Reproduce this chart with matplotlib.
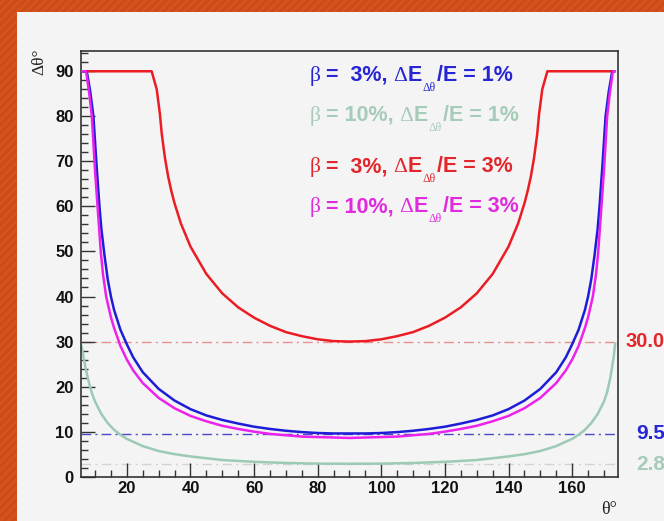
import matplotlib
matplotlib.use('Agg')
import matplotlib.pyplot as plt
from matplotlib.patches import Rectangle
from matplotlib.ticker import MultipleLocator
import matplotlib.transforms as mtransforms

plt.rcParams['mathtext.fontset'] = 'custom'
plt.rcParams['mathtext.rm'] = 'Liberation Serif'
plt.rcParams['mathtext.it'] = 'Liberation Serif'
plt.rcParams['mathtext.bf'] = 'Liberation Sans:bold'
plt.rcParams['font.family'] = ['Liberation Sans', 'DejaVu Sans']
plt.rcParams['hatch.linewidth'] = 2.0

# ---------------- data ----------------
theta_blue = [5.5, 7.4, 8.5, 9.5, 10.5, 11.4, 12, 13, 14, 15, 16, 18, 20, 22, 25, 30, 35, 40, 45,
              50, 55, 60, 65, 70, 75, 80, 85, 90,
              95, 100, 105, 110, 115, 120, 125, 130, 135, 140, 145, 150, 155, 158, 160, 162, 164,
              165, 166, 167, 168, 168.6, 169.5, 170.5, 171.5, 172.6, 173.2]
dtheta_blue = [90, 90, 85.5, 80, 69, 60, 55, 49, 43.8, 40, 37, 32.6, 29.4, 26.5, 23.2, 19.5, 16.9, 15.0, 13.6,
               12.6, 11.8, 11.1, 10.6, 10.2, 9.9, 9.7, 9.6, 9.6,
               9.6, 9.7, 9.9, 10.2, 10.6, 11.1, 11.8, 12.6, 13.6, 15.0, 16.9, 19.5, 23.2, 26.5, 29.4, 32.6, 37,
               40, 43.8, 49, 55, 60, 69, 80, 85.5, 90, 90]

theta_green = [5.5, 6, 7, 8, 9, 10, 12, 14, 16, 18, 20, 25, 30, 35, 40, 45, 50, 60, 70, 80, 90,
               100, 110, 120, 130, 135, 140, 145, 150, 155, 160, 162, 164, 166, 168, 170, 171, 172,
               173, 173.5]
dtheta_green = [29.5, 28.2, 24.2, 21.1, 18.6, 16.7, 13.9, 11.9, 10.4, 9.3, 8.4, 6.8, 5.7, 5.0, 4.5, 4.1, 3.7,
                3.3, 3.05, 2.9, 2.87,
                2.9, 3.05, 3.3, 3.7, 4.1, 4.5, 5.0, 5.7, 6.8, 8.4, 9.3, 10.4, 11.9, 13.9, 16.7, 18.8, 22.0,
                26.3, 29.5]

theta_red = [5.5, 27.8, 29.4, 30.4, 31, 32, 33, 34, 35, 37, 40, 45, 50, 55, 60, 65, 70, 75, 80, 85, 90,
             95, 100, 105, 110, 115, 120, 125, 130, 135, 140, 143, 145, 146, 147, 148, 149, 149.6,
             150.6, 152.2, 173.2]
dtheta_red = [90, 90, 86, 80.5, 76, 70.7, 66.6, 63.4, 60.7, 56.2, 51.1, 45, 40.7, 37.6, 35.3, 33.5, 32.1,
              31.2, 30.5, 30.1, 30.0,
              30.1, 30.5, 31.2, 32.1, 33.5, 35.3, 37.6, 40.7, 45, 51.1, 56.2, 60.7, 63.4, 66.6, 70.7, 76,
              80.5, 86, 90, 90]

theta_magenta = [5.5, 7.2, 8.2, 9.0, 10, 10.8, 11.8, 12.5, 13.5, 15, 16, 18, 20, 22, 25, 30, 35, 40, 45,
                 50, 55, 60, 65, 70, 75, 80, 85, 90,
                 95, 100, 105, 110, 115, 120, 125, 130, 135, 140, 145, 150, 155, 158, 160, 162, 164,
                 165, 166.5, 167.5, 168.2, 169.2, 170, 171, 171.8, 172.8, 173.2]
dtheta_magenta = [90, 90, 85, 80, 68, 60, 50, 45, 40, 35.4, 33, 29, 26, 23.6, 20.8, 17.5, 15.2, 13.5, 12.3,
                  11.3, 10.6, 10.0, 9.5, 9.2, 8.9, 8.8, 8.7, 8.6,
                  8.7, 8.8, 8.9, 9.2, 9.5, 10.0, 10.6, 11.3, 12.3, 13.5, 15.2, 17.5, 20.8, 23.6, 26, 29, 33,
                  35.4, 40, 45, 50, 60, 68, 80, 85, 90, 90]

beta_labels = ['3%', '10%', '3%', '10%']
dE_labels = ['1%', '1%', '3%', '3%']

ref_values = [30.0, 9.5, 2.8]
ref_labels = ['30.0', '9.5', '2.8']

x_ticks = [20, 40, 60, 80, 100, 120, 140, 160]
y_ticks = [0, 10, 20, 30, 40, 50, 60, 70, 80, 90]

# ---------------- styles ----------------
c_blue, c_green, c_red, c_mag = '#1d1dd8', '#9ccab4', '#ec1c24', '#ec22ec'
t_blue, t_green, t_red, t_mag = '#2626d4', '#a6cbb9', '#e3262b', '#e02ade'
ref_line_colors = ['#e89090', '#4a4ac8', '#cdd6d0']
ref_text_colors = ['#e3262b', '#2626d4', '#a6cbb9']
bg = '#f4f4f4'

W, H = 664, 521
fig = plt.figure(figsize=(W / 100, H / 100), dpi=100, facecolor=bg)

# orange slide frame (top and left bands)
for (x0, y0, w, h) in [(0, H - 12, W, 12), (0, 0, 17, H)]:
    fig.add_artist(Rectangle((x0 / W, y0 / H), w / W, h / H, transform=fig.transFigure,
                             facecolor='#d6531e', edgecolor='#cc4c19', hatch='////', lw=0, zorder=0))

L, R, T, B = 80.7, 618.3, 51, 476.7
ax = fig.add_axes([L / W, 1 - B / H, (R - L) / W, (B - T) / H])
ax.set_facecolor(bg)
ax.set_xlim(5.5, 174.5)
ax.set_ylim(0, 94.5)

for v, col in zip(ref_values, ref_line_colors):
    ax.axhline(v, color=col, lw=1.0, ls=(0, (7, 3, 1.5, 3)), zorder=1)

ax.plot(theta_green, dtheta_green, color=c_green, lw=1.8, zorder=2)
ax.plot(theta_red, dtheta_red, color=c_red, lw=1.8, zorder=3)
ax.plot(theta_blue, dtheta_blue, color=c_blue, lw=1.8, zorder=3)
ax.plot(theta_magenta, dtheta_magenta, color=c_mag, lw=1.8, zorder=4)

ax.set_xticks(x_ticks)
ax.set_yticks(y_ticks)
ax.xaxis.set_minor_locator(MultipleLocator(5))
ax.yaxis.set_minor_locator(MultipleLocator(2))
ax.tick_params(which='both', direction='in', top=False, right=False, color='#333333', width=1)
ax.tick_params(which='major', length=10)
ax.tick_params(which='minor', length=5)
ax.tick_params(axis='y', pad=5)
ax.tick_params(axis='x', pad=3)
for lab in ax.get_xticklabels() + ax.get_yticklabels():
    lab.set_fontsize(12)
    lab.set_fontweight('bold')
    lab.set_color('#111111')
for s in ax.spines.values():
    s.set_color('#333333')
    s.set_linewidth(1.2)

# legend texts, drawn piece by piece so that the subscript sits low as in ROOT
renderer = fig.canvas.get_renderer()


def piece(x_px, base_px, s, **kw):
    t = fig.text(x_px / W, 1 - base_px / H, s, ha='left', va='baseline', **kw)
    return x_px + t.get_window_extent(renderer).width


leg_colors = [t_blue, t_green, t_red, t_mag]
leg_base = [81, 121, 172, 212]
for b, e, col, yb in zip(beta_labels, dE_labels, leg_colors, leg_base):
    pad = '  ' if len(b) == 2 else ' '
    x = piece(310, yb, 'β', color=col, fontsize=15.5, family='Liberation Serif')
    x = piece(x + 5, yb, '=' + pad + b + ',', color=col, fontsize=15.5, fontweight='bold')
    x = piece(x + 6, yb, 'Δ', color=col, fontsize=15.5, family='Liberation Serif')
    x = piece(x, yb, 'E', color=col, fontsize=15.5, fontweight='bold')
    x = piece(x + 1, yb + 10, 'Δθ', color=col, fontsize=8.5, family='Liberation Serif')
    x = piece(x + 1, yb, '/E = ' + e, color=col, fontsize=15.5, fontweight='bold')

# value labels at the right
trans = mtransforms.blended_transform_factory(ax.transAxes, ax.transData)
for v, lab, col, xo, fs in zip(ref_values, ref_labels, ref_text_colors, [1.0125, 1.0333, 1.0333],
                               [14.5, 15, 15]):
    ax.text(xo, v, lab, transform=trans, color=col, fontsize=fs, fontweight='bold',
            ha='left', va='center', clip_on=False)

# axis titles
fig.text(39 / W, 1 - 62 / H, 'Δθ°', rotation=90, family='Liberation Serif', fontsize=12.5,
         ha='center', va='center', color='#222222')
fig.text(609 / W, 1 - 509 / H, 'θ°', family='Liberation Serif', fontsize=13,
         ha='center', va='center', color='#222222')

fig.savefig('out.png', dpi=100, facecolor=bg)
